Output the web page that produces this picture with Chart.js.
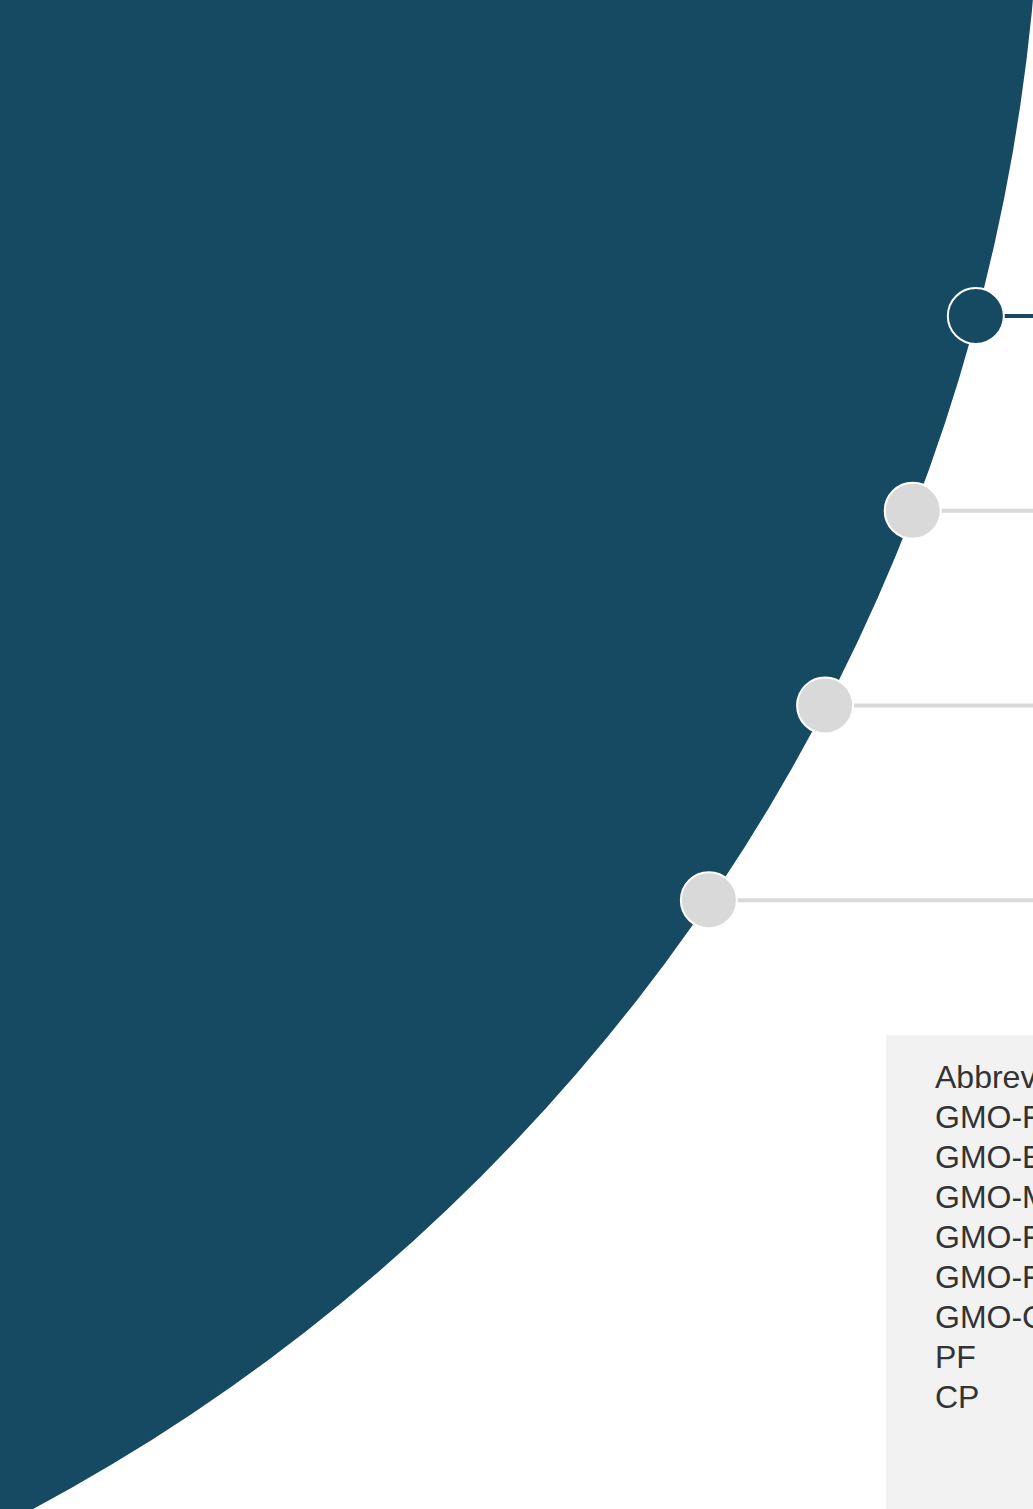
<!DOCTYPE html>
<html>
<head>
<meta charset="utf-8">
<script src="https://cdn.jsdelivr.net/npm/chart.js@4.4.1/dist/chart.umd.min.js"></script>
<style>
  html, body { margin: 0; padding: 0; width: 1033px; height: 1509px; overflow: hidden; background: #fff; }
  body { position: relative; }
  #bg { position: absolute; }
  #fg { position: absolute; left: 0; top: 0; }
  #abbr {
    position: absolute; left: 886px; top: 1035px; width: 420px; height: 520px;
    box-sizing: border-box; padding: 22px 0 0 49px; background: #f2f2f2;
    font-family: "Liberation Sans", Arial, sans-serif; font-size: 32px; line-height: 40px;
    color: #333; white-space: nowrap;
  }
</style>
</head>
<body>
<canvas id="bg"></canvas>
<canvas id="fg" width="1033" height="1509"></canvas>
<div id="abbr"></div>
<script>
// data
const stepLabels = ['Step 1', 'Step 2', 'Step 3', 'Step 4'];
const stepIndex = [0, 1, 2, 3];
const activeStep = 0;
const arcShare = [100];
const abbreviations = ['Abbreviations', 'GMO-FP', 'GMO-EP', 'GMO-MP', 'GMO-FS', 'GMO-FF', 'GMO-CP', 'PF', 'CP'];

const DARK = '#164a62';
const GRAY = '#d9d9d9';

// layout of the big arc (pixels, page coords)
const W = 1033, H = 1509;
const ARC = { cx: -870, cy: -175, r: 1911 };
const Y_MIN = -1.623, Y_MAX = 6.127;

// background: one huge pie, mostly off-page
let bg = document.querySelector('#bg');
bg.width = ARC.r * 2;
bg.height = ARC.r * 2;
bg.style.left = (ARC.cx - ARC.r) + 'px';
bg.style.top = (ARC.cy - ARC.r) + 'px';

new Chart(bg, {
    type: 'pie',
    data: {
        labels: ['all'],
        datasets: [{ data: arcShare, backgroundColor: [DARK], borderWidth: 0 }]
    },
    options: {
        responsive: false,
        animation: false,
        devicePixelRatio: 1,
        events: [],
        layout: { padding: 0, autoPadding: false },
        plugins: { legend: { display: false }, tooltip: { enabled: false } }
    }
});

// x of the arc edge at a step's row
function arcX(i) {
    let py = (i - Y_MIN) / (Y_MAX - Y_MIN) * H;
    let dy = py - ARC.cy;
    return ARC.cx + Math.sqrt(ARC.r * ARC.r - dy * dy);
}

let lineSets = stepIndex.map((i) => ({
    type: 'line',
    label: stepLabels[i] + ' line',
    data: [{ x: arcX(i), y: i }, { x: W + 40, y: i }],
    borderColor: i === activeStep ? DARK : GRAY,
    borderWidth: 4,
    pointRadius: 0,
    order: 2,
}));

let dotSet = {
    type: 'scatter',
    label: 'steps',
    data: stepIndex.map((i) => ({ x: arcX(i) - 1, y: i })),
    pointRadius: 28,
    pointHoverRadius: 28,
    pointBackgroundColor: stepIndex.map((i) => i === activeStep ? DARK : GRAY),
    pointBorderColor: '#ffffff',
    pointBorderWidth: 2,
    pointHoverBorderWidth: 2,
    order: 1,
};

new Chart(document.querySelector('#fg'), {
    type: 'scatter',
    data: { datasets: [dotSet, ...lineSets] },
    options: {
        responsive: false,
        animation: false,
        devicePixelRatio: 1,
        events: [],
        layout: { padding: 0, autoPadding: false },
        scales: {
            x: { type: 'linear', min: 0, max: W, display: false },
            y: { type: 'linear', min: Y_MIN, max: Y_MAX, reverse: true, display: false }
        },
        plugins: { legend: { display: false }, tooltip: { enabled: false } }
    }
});

document.querySelector('#abbr').innerHTML = abbreviations.map((t) => `<div>${t}</div>`).join('');
</script>
</body>
</html>
